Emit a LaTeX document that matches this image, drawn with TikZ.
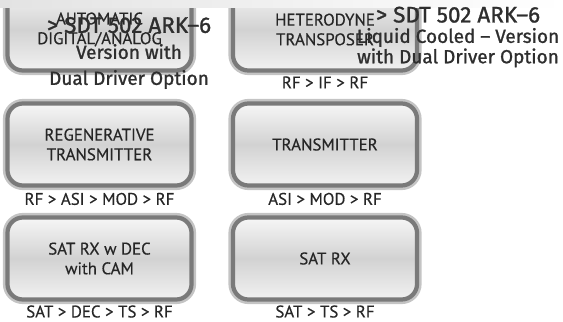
\documentclass[tikz,border=0pt]{standalone}
\usepackage{fontspec}
\setmainfont[FakeBold=0.4]{PT Sans}
\newfontfamily\notefont[FakeBold=1.2]{Fira Sans}
\usetikzlibrary{positioning,shadings}
\definecolor{btnrim}{HTML}{7A7A7A}
\definecolor{btnhalo}{HTML}{C4C4C4}
\definecolor{btntop}{HTML}{F6F6F6}
\definecolor{btnmid}{HTML}{D2D2D2}
\definecolor{btnbot}{HTML}{F2F2F2}
\definecolor{inktext}{HTML}{262626}
\definecolor{ovltext}{HTML}{2E2E2E}
\newcommand{\arkhead}{{\fontsize{16}{18}\selectfont > SDT 502 ARK–6}}
\tikzset{
  btn/.style={rounded corners=11pt, minimum width=4.6cm, minimum height=2.05cm,
              align=center, text=inktext, font=\fontsize{12}{14}\selectfont,
              draw=btnrim, line width=3pt, top color=btntop, bottom color=btnbot,
              middle color=btnmid, preaction={draw=btnhalo, line width=6.5pt}},
  capnote/.style={inner sep=1pt, text=inktext, font=\fontsize{12}{13}\selectfont},
  ovlnote/.style={align=center, text=ovltext, font=\notefont\fontsize{13.5}{18.5}\selectfont}}
\begin{document}
\begin{tikzpicture}[x=0.025cm, y=-0.025cm]
  \useasboundingbox (0,0) rectangle (563,321);
  \clip (0,0) rectangle (563,321);
  % row 1
  \node[btn] (autodig) at (99.5,29.5) {AUTOMATIC\\DIGITAL/ANALOG};
  \node[btn] (hetero) at (325,29.5) {HETERODYNE\\TRANSPOSER};
  \node[capnote, below=1.5pt of hetero] (hetcap) {RF > IF > RF};
  % row 2
  \node[btn] (regen) at (99.5,144.5) {REGENERATIVE\\TRANSMITTER};
  \node[capnote, below=2.5pt of regen] (regencap) {RF > ASI > MOD > RF};
  \node[btn] (transm) at (325,144.5) {TRANSMITTER};
  \node[capnote, below=2.5pt of transm] (transmcap) {ASI > MOD > RF};
  % row 3
  \node[btn] (satdec) at (99.5,258.5) {SAT RX w DEC\\with CAM};
  \node[capnote, below=1.5pt of satdec] (satdeccap) {SAT > DEC > TS > RF};
  \node[btn] (satrx) at (325,258.5) {SAT RX};
  \node[capnote, below=1.5pt of satrx] (satrxcap) {SAT > TS > RF};
  % strip over the top edge
  \fill[left color=gray!22, right color=white] (0,0) rectangle (563,8);
  % product notes laid over row 1
  \node[ovlnote] (arkdual) at (129,53) {\arkhead\\Version with\\Dual Driver Option};
  \node[ovlnote, font=\notefont\fontsize{13.5}{14.5}\selectfont] (arkliquid) at (458,37)
    {\arkhead\\Liquid Cooled – Version\\with Dual Driver Option};
\end{tikzpicture}
\end{document}
